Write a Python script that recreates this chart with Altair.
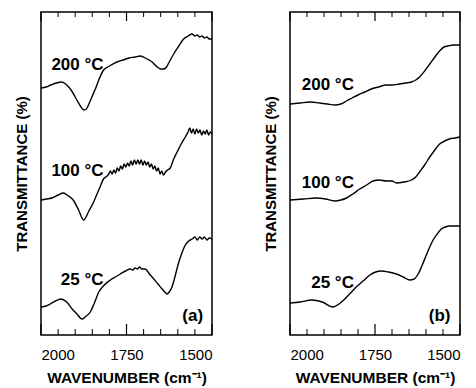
import altair as alt
import pandas as pd

FONT = "Liberation Sans"

# ---- data (wavenumber in cm^-1, transmittance in arbitrary units) ----
temps = ["200 °C", "100 °C", "25 °C"]

# panel (a)
wn_a200 = [2000, 1985, 1971, 1955, 1939, 1925, 1912, 1900, 1892, 1883, 1875, 1867, 1860, 1850, 1841, 1830,
           1817, 1805, 1795, 1778, 1760, 1743, 1725, 1710, 1690, 1675, 1660, 1650, 1641, 1633, 1625, 1612,
           1597, 1583, 1570, 1558, 1550, 1543, 1536, 1529, 1522, 1515, 1508, 1500]
t_a200 = [247, 248, 250, 252, 253, 250, 245, 238, 233, 228, 225, 226, 231, 239, 246, 256,
          265, 268, 270, 273, 275, 277, 278, 279, 276, 273, 268, 266, 266, 268, 273, 281,
          289, 296, 299, 301, 299, 300, 298, 299, 297, 298, 296, 296]

wn_a100 = [2000, 1985, 1968, 1950, 1935, 1920, 1906, 1890, 1875, 1860, 1846, 1830, 1817, 1807,
           1802, 1797, 1792, 1787, 1782, 1777, 1772, 1767, 1762, 1757, 1752, 1747, 1742, 1737, 1732,
           1727, 1722, 1717, 1712, 1707, 1702, 1697, 1692, 1687, 1682, 1677, 1672, 1667, 1662, 1657,
           1652, 1647, 1642, 1636, 1630, 1622, 1612, 1602, 1590, 1578,
           1570, 1565, 1560, 1555, 1550, 1545, 1540, 1535, 1530, 1525, 1520, 1515, 1510, 1505, 1500]
t_a100 = [135, 136, 137, 140, 142, 139, 135, 125, 115, 124, 133, 146, 156, 159,
          161, 164, 161, 165, 162, 167, 164, 169, 166, 171, 168, 172, 169, 174, 170,
          175, 171, 175, 171, 175, 170, 174, 170, 173, 168, 171, 166, 169, 164, 167,
          161, 164, 160, 163, 165, 167, 176, 183, 191, 198,
          203, 207, 202, 206, 201, 206, 202, 205, 200, 204, 201, 205, 200, 203, 201]

wn_a25 = [2000, 1985, 1973, 1958, 1942, 1925, 1909, 1895, 1880, 1871, 1856, 1845, 1831, 1815, 1797, 1783,
          1768, 1753, 1739, 1732, 1725, 1718, 1712, 1705, 1695, 1683, 1670, 1658, 1646, 1638, 1632, 1625,
          1617, 1607, 1597, 1588, 1578, 1568, 1558, 1550, 1543, 1536, 1529, 1522, 1515, 1508, 1500]
t_a25 = [28, 29, 31, 34, 36, 33, 26, 21, 16, 18, 23, 31, 43, 50, 55, 58,
         61, 64, 66, 65, 67, 66, 68, 66, 66, 61, 56, 51, 46, 43, 41, 43,
         48, 60, 73, 82, 90, 94, 96, 98, 95, 98, 96, 98, 95, 97, 96]

# panel (b)
wn_b200 = [2000, 1970, 1942, 1913, 1890, 1869, 1850, 1834, 1817, 1800, 1780, 1761, 1740, 1717, 1698, 1678,
           1660, 1643, 1630, 1619, 1604, 1589, 1574, 1560, 1547, 1535, 1520, 1500]
t_b200 = [231, 232, 233, 232, 231, 230, 231, 234, 237, 240, 243, 246, 248, 250, 250, 251,
          252, 253, 255, 258, 264, 271, 278, 284, 288, 289, 290, 290]

wn_b100 = [2000, 1960, 1923, 1895, 1869, 1850, 1834, 1815, 1795, 1775, 1756, 1737, 1717, 1700, 1687, 1665,
           1643, 1630, 1619, 1604, 1589, 1574, 1560, 1545, 1531, 1515, 1500]
t_b100 = [135, 136, 137, 136, 134, 135, 137, 141, 146, 150, 154, 155, 154, 154, 152, 153,
          155, 158, 163, 170, 178, 185, 191, 194, 196, 197, 198]

wn_b25 = [2000, 1970, 1937, 1905, 1874, 1856, 1839, 1822, 1805, 1785, 1765, 1748, 1731, 1710, 1687, 1667,
          1648, 1635, 1623, 1611, 1599, 1589, 1579, 1567, 1555, 1543, 1531, 1515, 1500]
t_b25 = [32, 33, 35, 33, 28, 31, 36, 42, 48, 54, 60, 63, 64, 63, 61, 58,
         55, 56, 61, 70, 80, 88, 95, 101, 106, 108, 109, 109, 109]

tick_labels = [2000, 1750, 1500]
minor_ticks = [1950, 1900, 1850, 1800, 1700, 1650, 1600, 1550]
major_ticks = [2000, 1750, 1500]

# annotation anchors (data units)
lab_wn_a, lab_t_a = [1817, 1817, 1817], [270, 164, 55]
lab_wn_b, lab_t_b = [1812, 1812, 1812], [250, 152, 52]

H = 323


def frame(wns, ts):
    rows = []
    for temp, w, t in zip(temps, wns, ts):
        rows += [{"wn": a, "T": b, "temp": temp} for a, b in zip(w, t)]
    return pd.DataFrame(rows)


def panel(df, lab_wn, lab_t, tag, tag_wn, width):
    x = alt.X("wn:Q",
              scale=alt.Scale(domain=[1500, 2000], reverse=True, nice=False, zero=False),
              axis=alt.Axis(values=tick_labels, format="d", title="WAVENUMBER (cm⁻¹)",
                            ticks=False, domain=False, grid=False, labelPadding=12,
                            titlePadding=8, labelFontSize=15, titleFontSize=15.5,
                            titleFontWeight="bold", labelColor="black", titleColor="black",
                            labelFont=FONT, titleFont=FONT))
    y = alt.Y("T:Q", scale=alt.Scale(domain=[0, H], nice=False, zero=False),
              axis=alt.Axis(title="TRANSMITTANCE (%)", labels=False, ticks=False, domain=False,
                            grid=False, titlePadding=12, titleFontSize=15, titleFontWeight="bold",
                            titleColor="black", titleFont=FONT))
    lines = alt.Chart(df).mark_line(color="black", strokeWidth=1.4, interpolate="monotone").encode(
        x=x, y=y, detail="temp:N")

    minor = pd.DataFrame({"wn": minor_ticks})
    major = pd.DataFrame({"wn": major_ticks})
    t1 = alt.Chart(minor).mark_rule(color="black", strokeWidth=1).encode(
        x=x, y=alt.value(0), y2=alt.value(5))
    t2 = alt.Chart(minor).mark_rule(color="black", strokeWidth=1).encode(
        x=x, y=alt.value(H), y2=alt.value(H - 6))
    t3 = alt.Chart(major).mark_rule(color="black", strokeWidth=1.2).encode(
        x=x, y=alt.value(0), y2=alt.value(9))
    t4 = alt.Chart(major).mark_rule(color="black", strokeWidth=1.2).encode(
        x=x, y=alt.value(H), y2=alt.value(H - 11))

    labs = pd.DataFrame({"wn": lab_wn, "T": lab_t, "label": temps})
    text = alt.Chart(labs).mark_text(align="right", baseline="middle", fontSize=17,
                                     fontWeight="bold", font=FONT, color="black").encode(
        x=x, y=y, text="label:N")
    tagdf = pd.DataFrame({"wn": [tag_wn], "T": [19], "label": [tag]})
    tagt = alt.Chart(tagdf).mark_text(align="right", baseline="middle", fontSize=17,
                                      fontWeight="bold", font=FONT, color="black").encode(
        x=x, y=y, text="label:N")
    return alt.layer(lines, t1, t2, t3, t4, text, tagt).properties(width=width, height=H)


pa = panel(frame([wn_a200, wn_a100, wn_a25], [t_a200, t_a100, t_a25]), lab_wn_a, lab_t_a, "(a)", 1526, 171)
pb = panel(frame([wn_b200, wn_b100, wn_b25], [t_b200, t_b100, t_b25]), lab_wn_b, lab_t_b, "(b)", 1528, 170)

chart = alt.hconcat(pa, pb, spacing=46).properties(
    padding={"left": 5, "top": 2, "right": 0, "bottom": 0}
).configure_view(stroke="black", strokeWidth=1.5)

chart.save("out.html", embed_options={"renderer": "svg", "actions": False})
